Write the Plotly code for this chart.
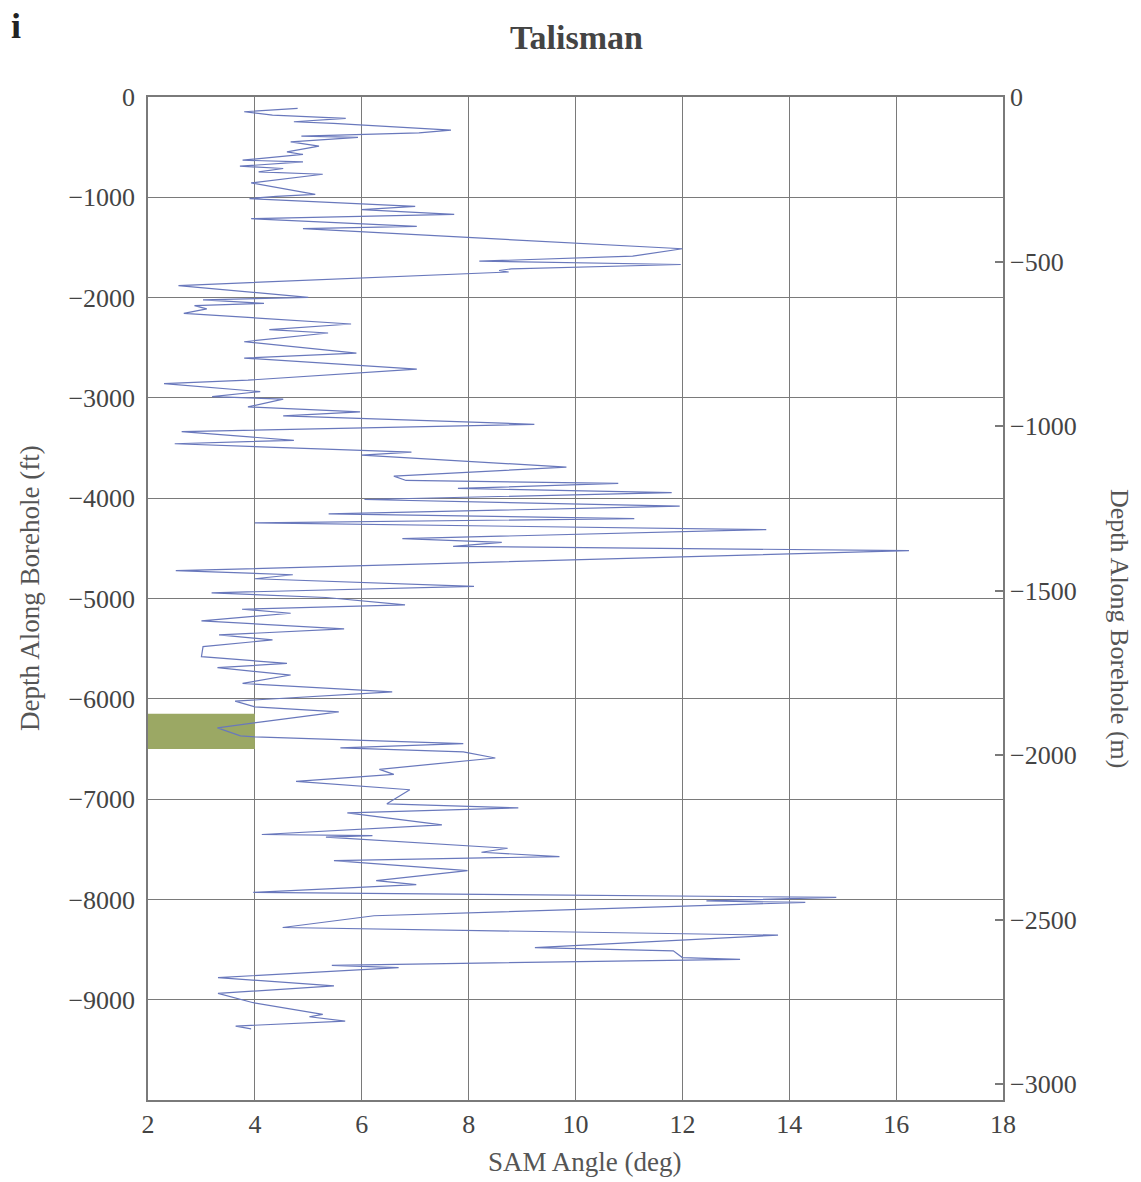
import plotly.graph_objects as go

# SAM angle (deg) vs depth along borehole (ft)
sam_angle = [
    4.8, 3.8, 4.33, 5.7, 4.73, 5.47, 7.67, 7.07, 4.87, 5.93, 4.67, 5.2, 4.6, 4.9,
    3.77, 4.9, 3.72, 4.53, 4.07, 5.27, 3.93, 5.13, 4.4, 3.9, 7.0, 6.0, 7.73, 3.93,
    7.03, 4.9, 12.0, 11.07, 8.2, 11.97, 8.8, 8.57, 8.75, 2.57, 5.0, 3.03, 4.17, 2.87,
    3.1, 2.67, 5.8, 4.27, 5.37, 3.8, 5.9, 3.8, 7.03, 3.87, 2.3, 4.1, 3.2, 4.53,
    3.87, 5.97, 4.53, 9.23, 2.63, 4.73, 2.5, 6.93, 6.0, 9.83, 6.6, 6.83, 10.8,
    7.8, 11.8, 6.05, 11.95, 5.38, 11.1, 4.0, 13.57, 6.76, 8.62, 7.71, 16.24, 2.52,
    4.71, 4.0, 8.1, 3.19, 5.33, 6.81, 3.76, 4.67, 3.0, 5.67, 3.33, 4.33, 3.03,
    3.0, 4.6, 3.3, 4.67, 3.77, 6.57, 3.63, 4.0, 5.57, 4.13, 3.3, 3.73, 4.0, 7.9,
    5.6, 7.9, 8.5, 6.33, 6.6, 4.77, 6.9, 6.47, 8.93, 5.73, 7.5, 4.13, 6.2, 5.33,
    8.73, 8.24, 9.7, 5.48, 7.98, 6.27, 7.02, 3.97, 14.88, 12.45, 14.3, 6.23, 4.52,
    13.79, 9.24, 11.83, 12.0, 13.08, 5.44, 6.69, 3.31, 5.48, 3.31, 3.97, 5.27,
    5.02, 5.69, 3.64, 3.93,
]
depth_ft = [
    -113, -147, -180, -213, -247, -263, -330, -357, -390, -403, -447, -490, -547, -573,
    -630, -647, -690, -713, -747, -770, -857, -970, -990, -1013, -1090, -1123, -1170, -1213,
    -1290, -1313, -1513, -1587, -1637, -1670, -1713, -1730, -1745, -1880, -1997, -2023, -2057, -2080,
    -2113, -2157, -2263, -2320, -2353, -2440, -2553, -2603, -2713, -2823, -2857, -2937, -2987, -3013,
    -3090, -3140, -3180, -3263, -3337, -3423, -3457, -3540, -3570, -3690, -3780, -3823, -3853,
    -3903, -3945, -4013, -4080, -4157, -4203, -4247, -4313, -4403, -4440, -4480, -4523, -4723,
    -4763, -4803, -4880, -4943, -4990, -5063, -5107, -5147, -5223, -5303, -5363, -5413, -5480,
    -5580, -5647, -5690, -5763, -5847, -5930, -6023, -6080, -6130, -6230, -6290, -6370, -6380, -6447,
    -6490, -6530, -6590, -6703, -6753, -6823, -6907, -7047, -7087, -7137, -7257, -7353, -7365, -7380,
    -7490, -7530, -7573, -7613, -7713, -7813, -7853, -7930, -7980, -8015, -8030, -8163, -8280,
    -8357, -8480, -8513, -8580, -8597, -8657, -8680, -8780, -8863, -8937, -9030, -9147,
    -9170, -9213, -9263, -9290,
]

# highlighted zone
zone_angle = [2, 4]
zone_depth = [-6150, -6500]

x_ticks = [2, 4, 6, 8, 10, 12, 14, 16, 18]
ft_ticks = [0, -1000, -2000, -3000, -4000, -5000, -6000, -7000, -8000, -9000]
m_ticks = [0, -500, -1000, -1500, -2000, -2500, -3000]
FT_TO_M = 0.3048

FONT = "Liberation Serif"
GRID = "#7a7a7a"
TXT = "#444"
TICK_SIZE = 26

fig = go.Figure()

fig.add_trace(go.Scatter(
    x=[zone_angle[0], zone_angle[1], zone_angle[1], zone_angle[0], zone_angle[0]],
    y=[zone_depth[0], zone_depth[0], zone_depth[1], zone_depth[1], zone_depth[0]],
    fill="toself", fillcolor="rgb(155,168,100)", mode="lines",
    line=dict(width=0), hoverinfo="skip", showlegend=False,
))

fig.add_trace(go.Scatter(
    x=sam_angle, y=depth_ft, mode="lines",
    line=dict(color="rgb(105,120,188)", width=1.2),
    showlegend=False,
))

# invisible trace for right axis
fig.add_trace(go.Scatter(x=[2], y=[0], yaxis="y2", mode="markers",
                         marker=dict(opacity=0), showlegend=False, hoverinfo="skip"))

W, H = 1141, 1182
ML, MR, MT, MB = 148, 138, 97, 82
pw, ph = W - ML - MR, H - MT - MB


def px_x(px):
    return (px - ML) / pw


def px_y(py):
    return 1 - (py - MT) / ph


fig.update_layout(
    width=W, height=H,
    margin=dict(l=ML, r=MR, t=MT, b=MB),
    plot_bgcolor="white", paper_bgcolor="white",
    font=dict(family=FONT, size=TICK_SIZE, color=TXT),
    xaxis=dict(range=[2, 18], tickvals=x_ticks, showgrid=True, gridcolor=GRID, gridwidth=1.2,
               showline=True, linecolor=GRID, linewidth=1.5, mirror=True, ticks="",
               zeroline=False, tickfont=dict(size=TICK_SIZE, color=TXT)),
    yaxis=dict(range=[-10000, 0], tickvals=ft_ticks, showgrid=True, gridcolor=GRID, gridwidth=1.2,
               showline=True, linecolor=GRID, linewidth=1.5, mirror=True, ticks="",
               zeroline=False, tickfont=dict(size=TICK_SIZE, color=TXT), ticklabelstandoff=6),
    yaxis2=dict(range=[-10000 * FT_TO_M, 0], tickvals=m_ticks, overlaying="y", side="right",
                showgrid=False, zeroline=False, ticks="inside", ticklen=8, tickcolor=GRID,
                tickwidth=1.5, showline=False, tickfont=dict(size=TICK_SIZE, color=TXT),
                ticklabelstandoff=6),
    annotations=[
        dict(text="<b>Talisman</b>", x=px_x(576), y=px_y(38), xref="paper", yref="paper",
             showarrow=False, xanchor="center", yanchor="middle",
             font=dict(size=34, color=TXT, family=FONT)),
        dict(text="<b>i</b>", x=px_x(16), y=px_y(26), xref="paper", yref="paper",
             showarrow=False, xanchor="center", yanchor="middle",
             font=dict(size=36, color="#222", family=FONT)),
        dict(text="SAM Angle (deg)", x=px_x(584), y=px_y(1162), xref="paper", yref="paper",
             showarrow=False, xanchor="center", yanchor="middle",
             font=dict(size=27, color="#555", family=FONT)),
        dict(text="Depth Along Borehole (ft)", x=px_x(30), y=px_y(588), xref="paper", yref="paper",
             showarrow=False, textangle=-90, xanchor="center", yanchor="middle",
             font=dict(size=27, color="#555", family=FONT)),
        dict(text="Depth Along Borehole (m)", x=px_x(1120), y=px_y(628), xref="paper", yref="paper",
             showarrow=False, textangle=90, xanchor="center", yanchor="middle",
             font=dict(size=26, color="#555", family=FONT)),
    ],
)

fig.write_html("out.html")
